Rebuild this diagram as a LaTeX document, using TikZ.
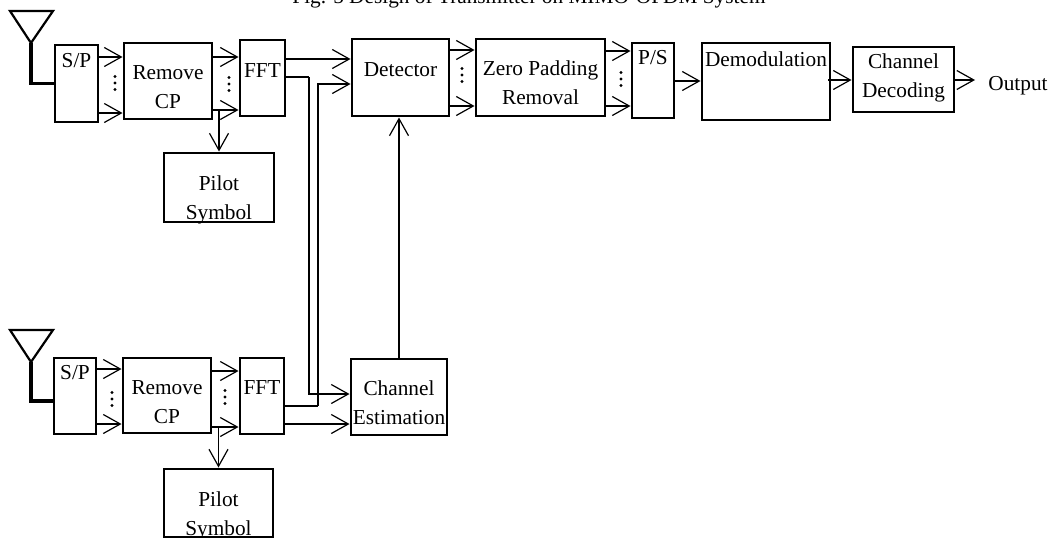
\documentclass[tikz,border=0pt]{standalone}
\usepackage{fontspec}
\setmainfont{Liberation Serif}
\usetikzlibrary{arrows.meta}
\tikzset{
  blk/.style={draw=black,line width=2.2pt,fill=white,inner sep=0pt,outer sep=0pt,
    font=\fontsize{21.3}{25}\selectfont},
  arr/.style={line width=1.2pt,-{Straight Barb[length=17pt,width=19pt,line width=1.2pt]},shorten >=1.5pt},
  wire/.style={line width=1.2pt},
  ant/.style={draw=black,line width=2.2pt,line join=miter},
  feed/.style={draw=black,line width=3.5pt,line join=miter},
  txt/.style={inner sep=0pt,font=\fontsize{21.3}{25}\selectfont}
}
% box: [raise]{name}{x0}{y0}{x1}{y1}{text}
\newcommand\bxt[7][0]{%
  \pgfmathsetmacro\bw{(#5)-(#3)}\pgfmathsetmacro\bh{(#6)-(#4)}%
  \node[blk,minimum width=\bw pt,minimum height=\bh pt]
  at ({((#3)+(#5))/2},{((#4)+(#6))/2}) (#2)
  {\makebox[0pt]{\raisebox{#1pt}[0pt][0pt]{\begin{tabular}{@{}c@{}}#7\end{tabular}}}};}
\newcommand\vdotsat[2]{%
  \foreach \d in {-6.5,0,6.5} \fill (#1,#2+\d) circle (1.6);}
\begin{document}
\begin{tikzpicture}[x=1pt,y=-1pt]
\useasboundingbox (0,0) rectangle (1052,538);
\node[txt,anchor=base] (title) at (529,4) {Fig. 5 Design of Transmitter on MIMO-OFDM System};
% upper chain
\coordinate (ant1) at (31,43);
\draw[ant] (10,11) -- (53,11) -- (ant1) -- cycle;
\bxt[16]{sp1}{55}{45}{98}{122}{S/P}
\bxt[-13]{rc1}{124}{43}{212}{119}{Remove\\[4pt]CP}
\bxt[0]{ff1}{240}{40}{285}{116}{FFT}
\bxt[-17.5]{pl1}{164}{153}{274}{222}{Pilot\\[4pt]Symbol}
\draw[feed] (ant1) |- (sp1.west);
\draw[arr] (sp1.east |- 0,57) -- (rc1.west |- 0,57);
\draw[arr] (sp1.east |- 0,113) -- (rc1.west |- 0,113);
\vdotsat{115}{83}
\draw[arr] (rc1.east |- 0,57) -- (ff1.west |- 0,57);
\draw[arr] (rc1.east |- 0,110) -- (ff1.west |- 0,110);
\vdotsat{229}{84}
\draw[arr] (pl1.north |- 0,110) -- (pl1.north);
% lower chain
\coordinate (ant2) at (31,362);
\draw[ant] (10,330) -- (53,330) -- (ant2) -- cycle;
\bxt[16]{sp2}{54}{358}{96}{434}{S/P}
\bxt[-13.5]{rc2}{123}{358}{211}{433}{Remove\\[4pt]CP}
\bxt[1]{ff2}{240}{358}{284}{434}{FFT}
\bxt[-18]{pl2}{164}{469}{273}{537}{Pilot\\[4pt]Symbol}
\draw[feed] (ant2) |- (sp2.west |- 0,401);
\draw[arr] (sp2.east |- 0,369) -- (rc2.west |- 0,369);
\draw[arr] (sp2.east |- 0,424) -- (rc2.west |- 0,424);
\vdotsat{112}{399}
\draw[arr] (rc2.east |- 0,371) -- (ff2.west |- 0,371);
\draw[arr] (rc2.east |- 0,427) -- (ff2.west |- 0,427);
\vdotsat{225}{397}
\draw[arr] (pl2.north |- 0,427) -- (pl2.north);
% detector chain
\bxt[1]{det}{352}{39}{449}{116}{Detector}
\bxt[-13]{zpr}{476}{39}{605}{116}{Zero Padding\\[4pt]Removal}
\bxt[16]{ps}{632}{43}{674}{118}{P/S}
\bxt[15]{dem}{702}{43}{830}{120}{Demodulation}
\bxt[-4]{dec}{853}{47}{954}{112}{Channel\\[4pt]Decoding}
\bxt[-13]{ce}{351}{359}{447}{435}{Channel\\[4pt]Estimation}
\node[txt] (out) at (1018,86) {Output};
% cross connections
\draw[arr] (ff1.east |- 0,59) -- (det.west |- 0,59);
\draw[wire] (ff1.east |- 0,77) -- (309,77) coordinate (c1);
\draw[arr] (c1) |- (ce.west |- 0,394);
\draw[wire] (ff2.east |- 0,406) -- (318,406) coordinate (c2);
\draw[arr] (c2) |- (det.west |- 0,84);
\draw[arr] (ff2.east |- 0,424) -- (ce.west |- 0,424);
\draw[arr] (ce.north) -- (ce.north |- det.south);
% output chain
\draw[arr] (det.east |- 0,50) -- (zpr.west |- 0,50);
\draw[arr] (det.east |- 0,106) -- (zpr.west |- 0,106);
\vdotsat{462}{75}
\draw[arr] (zpr.east |- 0,51) -- (ps.west |- 0,51);
\draw[arr] (zpr.east |- 0,106) -- (ps.west |- 0,106);
\vdotsat{621}{79}
\draw[arr] (ps.east |- 0,81) -- (dem.west |- 0,81);
\draw[arr] (828,80) -- (dec.west |- 0,80);
\draw[arr] (dec.east |- 0,80) -- (976.5,80);
\end{tikzpicture}
\end{document}
